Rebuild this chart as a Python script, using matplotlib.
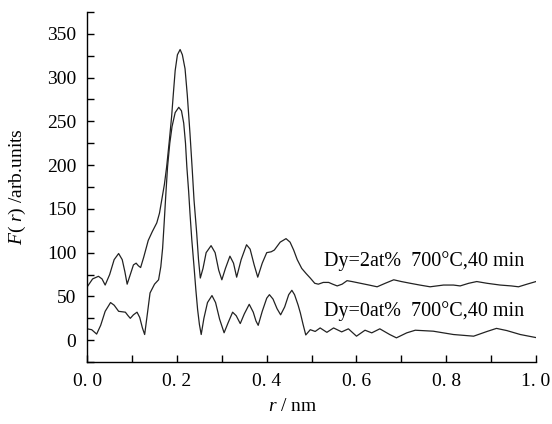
import numpy as np
import matplotlib
matplotlib.use("Agg")
import matplotlib.pyplot as plt
from matplotlib.ticker import MultipleLocator, FuncFormatter

plt.rcParams["font.family"] = ["Liberation Serif", "DejaVu Serif"]
plt.rcParams["mathtext.fontset"] = "custom"
plt.rcParams["mathtext.it"] = "Liberation Serif:italic"
plt.rcParams["mathtext.rm"] = "Liberation Serif"

# radial distribution F(r), Dy = 2 at%
r_dy2 = [0.000, 0.012, 0.025, 0.033, 0.040, 0.050, 0.060, 0.070, 0.078, 0.084,
         0.089, 0.096, 0.103, 0.109, 0.114, 0.119, 0.126, 0.136, 0.145, 0.155,
         0.161, 0.166, 0.172, 0.177, 0.183, 0.188, 0.192, 0.196, 0.201, 0.207,
         0.212, 0.218, 0.223, 0.229, 0.234, 0.238, 0.244, 0.248, 0.252, 0.258,
         0.265, 0.276, 0.285, 0.293, 0.300, 0.308, 0.318, 0.326, 0.333, 0.343,
         0.355, 0.363, 0.372, 0.380, 0.390, 0.400, 0.410, 0.417, 0.430, 0.443,
         0.452, 0.460, 0.468, 0.478, 0.488, 0.497, 0.507, 0.515, 0.526, 0.538,
         0.547, 0.557, 0.568, 0.579, 0.590, 0.609, 0.628, 0.646, 0.664, 0.683,
         0.700, 0.720, 0.741, 0.764, 0.794, 0.816, 0.831, 0.850, 0.868, 0.891,
         0.920, 0.945, 0.961, 0.980, 1.000]
F_dy2 = [61, 70, 73, 70, 63, 75, 92, 99, 92, 78,
         64, 75, 86, 88, 85, 83, 95, 114, 124, 134,
         145, 160, 178, 198, 228, 255, 282, 308, 326, 332,
         326, 310, 280, 236, 195, 160, 122, 92, 71, 82,
         100, 108, 100, 80, 69, 82, 96, 88, 72, 92,
         109, 104, 86, 72, 88, 100, 101, 103, 112, 116,
         112, 103, 92, 82, 76, 71, 65, 64, 66, 66,
         64, 62, 64, 68, 67, 65, 63, 61, 65, 69,
         67, 65, 63, 61, 63, 63, 62, 65, 67, 65,
         63, 62, 61, 64, 67]

# radial distribution F(r), Dy = 0 at%
r_dy0 = [0.000, 0.010, 0.021, 0.030, 0.040, 0.052, 0.060, 0.070, 0.085, 0.091,
         0.096, 0.103, 0.111, 0.117, 0.123, 0.128, 0.134, 0.140, 0.150, 0.159,
         0.164, 0.168, 0.171, 0.175, 0.179, 0.184, 0.189, 0.196, 0.204, 0.210,
         0.215, 0.219, 0.222, 0.226, 0.229, 0.233, 0.238, 0.242, 0.246, 0.250,
         0.254, 0.260, 0.268, 0.278, 0.286, 0.295, 0.305, 0.314, 0.324, 0.332,
         0.341, 0.350, 0.361, 0.370, 0.376, 0.381, 0.390, 0.400, 0.406, 0.414,
         0.423, 0.431, 0.440, 0.449, 0.456, 0.462, 0.470, 0.475, 0.481, 0.487,
         0.497, 0.508, 0.519, 0.534, 0.549, 0.567, 0.582, 0.600, 0.619, 0.634,
         0.652, 0.674, 0.689, 0.712, 0.731, 0.771, 0.816, 0.861, 0.891, 0.912,
         0.935, 0.965, 1.000]
F_dy0 = [13, 12, 7, 17, 33, 43, 40, 33, 32, 28,
         25, 29, 32, 26, 14, 6.5, 30, 54, 64, 69,
         84, 105, 130, 165, 198, 225, 244, 260, 266, 262,
         248, 225, 198, 170, 145, 115, 84, 58, 35, 18,
         6.5, 25, 43, 51, 43, 24, 8.5, 20, 32, 28,
         19, 30, 41, 32, 22, 17, 33, 48, 52, 47,
         36, 29, 38, 52, 57, 52, 40, 31, 18, 6,
         12, 10, 14, 9, 14, 9.5, 13, 4.6, 11.4, 8.4,
         13, 6.5, 2.7, 8.4, 11.4, 10.3, 6.5, 4.6, 10, 13.5,
         11, 6.5, 3]

labels = ["Dy=2at%  700°C,40 min", "Dy=0at%  700°C,40 min"]

fig = plt.figure(figsize=(5.52, 4.24), dpi=100)
ax = fig.add_axes([0.158, 0.146, 0.813, 0.826])

ax.plot(r_dy2, F_dy2, color="#222222", lw=0.9)
ax.plot(r_dy0, F_dy0, color="#222222", lw=0.9)

ax.text(0.528, 90, labels[0], fontsize=14.5, va="center", ha="left")
ax.text(0.528, 33, labels[1], fontsize=14.5, va="center", ha="left")

ax.set_xlim(0, 1.0)
ax.set_ylim(-25, 375)
ax.xaxis.set_major_locator(MultipleLocator(0.1))
ax.xaxis.set_major_formatter(FuncFormatter(
    lambda v, p: ("%.1f" % v).replace(".", ". ") if round(v * 10) % 2 == 0 else ""))
ax.yaxis.set_major_locator(MultipleLocator(25))
ax.yaxis.set_major_formatter(FuncFormatter(
    lambda v, p: "%d" % v if v >= 0 and round(v) % 50 == 0 else ""))

ax.tick_params(direction="in", length=5, width=1, labelsize=14, pad=8)
for side in ("top", "right"):
    ax.spines[side].set_visible(False)
for side in ("left", "bottom"):
    ax.spines[side].set_linewidth(1)

ax.set_xlabel("$r$ / nm", fontsize=14)
ax.set_ylabel("$F$( $r$) /arb.units", fontsize=14)
ax.xaxis.set_label_coords(0.457, -0.102)
ax.yaxis.set_label_coords(-0.133, 0.5)

fig.savefig("out.png", dpi=100)
